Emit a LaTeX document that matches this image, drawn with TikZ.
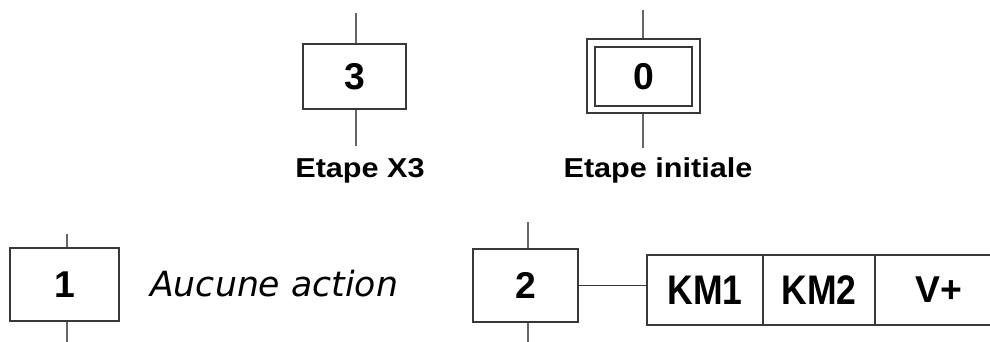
\documentclass[tikz,border=0pt]{standalone}
\usepackage{fontspec}
\setmainfont{Liberation Sans}
\newfontfamily\actfont{DejaVu Sans}
\usetikzlibrary{positioning}

% one unit = one pixel of the drawing, y pointing down
\tikzset{
  x=0.75pt, y=-0.75pt,
  frame/.style={draw=black!78, line width=1.5pt},
  stepbox/.style={frame, fill=white, inner sep=0pt,
    font=\bfseries\fontsize{28}{28}\selectfont},
  link/.style={draw=black!60, line width=1.5pt},
  actcell/.style={frame, inner sep=0pt, minimum height=52.5pt,
    font=\bfseries\fontsize{31}{31}\selectfont},
  caption/.style={inner sep=0pt, anchor=base,
    font=\bfseries\fontsize{20.5}{20.5}\selectfont},
}

\begin{document}
\begin{tikzpicture}
\useasboundingbox (0,0) rectangle (990,342);
\clip (0,0) rectangle (990,342);

% ---- step 3 ----
\coordinate (s3t) at (356,13);
\coordinate (s3b) at (356,146);
\draw[link] (s3t) -- (s3b);
\node[stepbox, minimum width=77.25pt, minimum height=48.75pt] (s3) at (354.5,76.5) {3};
\node[caption] (l3) at (360,178) {\scalebox{1.12}[1]{Etape X3}};

% ---- initial step 0 ----
\coordinate (s0t) at (643,10);
\coordinate (s0b) at (643,148);
\draw[link] (s0t) -- (s0b);
\node[frame, fill=white, line width=2.2pt, inner sep=0pt,
      minimum width=84.75pt, minimum height=55.5pt] (s0out) at (643.5,76) {};
\node[stepbox, minimum width=72.75pt, minimum height=44.25pt] (s0) at (643.5,76.5) {0};
\node[caption] (l0) at (658,178) {\scalebox{1.12}[1]{Etape initiale}};

% ---- step 1 ----
\coordinate (s1t) at (67,234);
\coordinate (s1b) at (67,345);
\draw[link] (s1t) -- (s1b);
\node[stepbox, minimum width=81.75pt, minimum height=54.75pt] (s1) at (64.5,284.5) {1};
\node[inner sep=0pt, anchor=west, font=\actfont\itshape\fontsize{26}{26}\selectfont]
  (a1) at (150,284) {Aucune action};

% ---- step 2 with its actions ----
\coordinate (s2t) at (528,222);
\coordinate (s2b) at (528,345);
\draw[link] (s2t) -- (s2b);
\node[stepbox, minimum width=78.75pt, minimum height=54.75pt] (s2) at (525.5,285.5) {2};
\node[actcell, minimum width=87pt] (k1) at (705,290) {\scalebox{0.86}[1]{KM1}};
\node[actcell, minimum width=84pt] (k2) at (819,290) {\scalebox{0.86}[1]{KM2}};
\node[actcell, minimum width=90pt] (k3) at (935,290) {};
\node[inner sep=0pt, font=\bfseries\fontsize{28}{28}\selectfont] (v) at (939,290) {V+};
\draw[frame, line width=1.2pt] (s2.east) -- (k1.west |- s2.east);
\end{tikzpicture}
\end{document}
